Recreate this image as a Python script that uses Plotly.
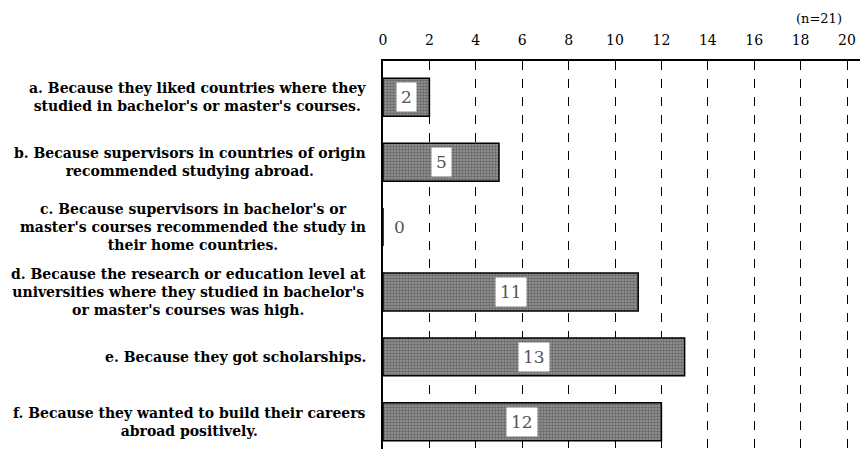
import plotly.graph_objects as go

categories = [
    "a. Because they liked countries where they<br>studied in bachelor's or master's courses.",
    "b. Because supervisors in countries of origin<br>recommended studying abroad.",
    "c. Because supervisors in bachelor's or<br>master's courses recommended the study in<br>their home countries.",
    "d. Because the research or education level at<br>universities where they studied in bachelor's<br>or master's courses was high.",
    "e. Because they got scholarships.",
    "f. Because they wanted to build their careers<br>abroad positively.",
]
keys = ["a", "b", "c", "d", "e", "f"]
values = [2, 5, 0, 11, 13, 12]
tick_vals = [0, 2, 4, 6, 8, 10, 12, 14, 16, 18, 20]
note = "(n=21)"

SERIF = "DejaVu Serif"

fig = go.Figure()
fig.add_trace(go.Bar(
    x=values, y=keys, orientation="h", width=0.585,
    marker=dict(
        color="#666666",
        line=dict(color="black", width=1.5),
        pattern=dict(shape=".", size=3, solidity=0.55, fgcolor="#363636", bgcolor="#999999"),
    ),
    hoverinfo="skip", showlegend=False,
))

annotations = []
for k, c in zip(keys, categories):
    annotations.append(dict(
        xref="paper", x=0, xanchor="right", xshift=-15,
        yref="y", y=k, yanchor="middle",
        text=c, align="center", showarrow=False,
        font=dict(family=SERIF, size=14, color="black", weight="bold"),
    ))
for k, v in zip(keys, values):
    if v > 0:
        annotations.append(dict(
            xref="x", x=v / 2, xanchor="center", yref="y", y=k,
            text=str(v), showarrow=False, bgcolor="white", borderpad=4,
            font=dict(family=SERIF, size=17, color="#555"),
        ))
    else:
        annotations.append(dict(
            xref="x", x=v, xanchor="left", xshift=9, yref="y", y=k,
            text=str(v), showarrow=False,
            font=dict(family=SERIF, size=17, color="#555"),
        ))
annotations.append(dict(
    xref="x", x=tick_vals[-1], xanchor="right", xshift=-3,
    yref="paper", y=1, yanchor="middle", yshift=43,
    text=note, showarrow=False,
    font=dict(family=SERIF, size=13, color="black"),
))

fig.update_layout(
    width=860, height=449,
    margin=dict(l=383, r=0, t=61, b=0),
    paper_bgcolor="white", plot_bgcolor="white",
    annotations=annotations,
    xaxis=dict(
        side="top", range=[0, 20.56], tickvals=tick_vals,
        showgrid=True, gridcolor="black", gridwidth=1, griddash="dash",
        showline=True, linecolor="black", linewidth=1.5,
        ticks="outside", ticklen=9, tickcolor="rgba(0,0,0,0)",
        tickfont=dict(family=SERIF, size=14, color="black"),
        zeroline=False, fixedrange=True,
    ),
    yaxis=dict(
        categoryorder="array", categoryarray=keys,
        range=[5.42, -0.56], showticklabels=False, ticks="",
        showgrid=False, zeroline=False,
        showline=True, linecolor="black", linewidth=2,
        fixedrange=True,
    ),
)

fig.write_html(
    "out.html",
    config={"displayModeBar": False},
    post_script="document.body.style.margin='0';document.body.style.overflow='hidden';",
)
